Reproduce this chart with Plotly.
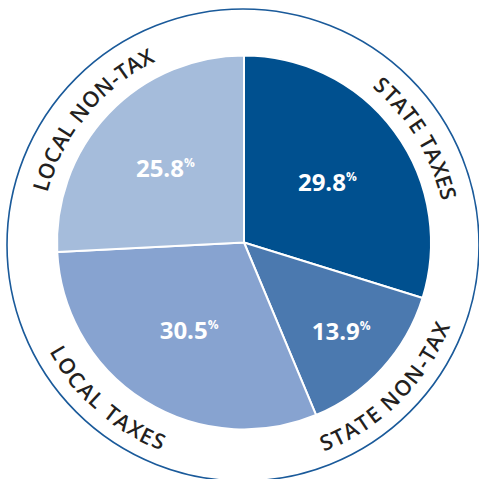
import math
import plotly.graph_objects as go

# ---- data ----
categories = ["STATE TAXES", "STATE NON-TAX", "LOCAL TAXES", "LOCAL NON-TAX"]
shares = [29.8, 13.9, 30.5, 25.8]

# ---- style ----
colors = ["#00508f", "#4b79af", "#87a3d0", "#a5bcdb"]
label_offsets_deg = [5, 3, 9, -4]   # shift of outer curved label relative to slice middle
W = H = 479
pie_cx, pie_cy, pie_r = 244, 242.5, 187  # px (from top)
label_font = "Open Sans"
label_size = 21.5
tracking = 1.2

# approximate advance widths (em) for uppercase glyphs
adv = {"S": .56, "T": .56, "A": .64, "E": .55, "X": .60, "N": .76, "O": .79,
       "-": .33, "L": .52, "C": .64, " ": .26}

fig = go.Figure()
fig.add_trace(go.Pie(
    labels=categories,
    values=shares,
    sort=False,
    direction="clockwise",
    rotation=0,
    marker=dict(colors=colors, line=dict(color="white", width=2)),
    texttemplate="<b>%{value:.1f}</b><sup><span style='font-size:12px'>%</span></sup>",
    textposition="inside",
    insidetextorientation="horizontal",
    textfont=dict(family="Open Sans", size=24, color="white", weight="bold"),
    hoverinfo="label+value",
    showlegend=False,
    domain=dict(
        x=[(pie_cx - pie_r) / W, (pie_cx + pie_r) / W],
        y=[(H - pie_cy - pie_r) / H, (H - pie_cy + pie_r) / H],
    ),
))

# outer ring
fig.add_shape(type="circle", xref="paper", yref="paper",
              x0=7 / W, x1=479 / W, y0=-2 / H, y1=470 / H,
              line=dict(color="#1a5a9a", width=1.6))

# curved labels, letter by letter
ring_cx, ring_cy = 243.5, 244
total = sum(shares)
start = 0.0
annotations = []
for name, val, off in zip(categories, shares, label_offsets_deg):
    mid = (start + val / 2) / total * 360 + off
    start += val
    bottom = 90 < (mid % 360) < 270
    r = 214 if bottom else 211
    widths = [adv.get(ch, .6) * label_size + tracking for ch in name]
    totw = sum(widths)
    s = -totw / 2
    for ch, w in zip(name, widths):
        centre = s + w / 2
        s += w
        dtheta = math.degrees(centre / r)
        theta = mid - dtheta if bottom else mid + dtheta
        th = math.radians(theta)
        px = ring_cx + r * math.sin(th)
        py = ring_cy - r * math.cos(th)
        rot = theta - 180 if bottom else theta
        if ch == " ":
            continue
        annotations.append(dict(
            x=px / W, y=1 - py / H, xref="paper", yref="paper",
            text=ch, showarrow=False, textangle=rot,
            xanchor="center", yanchor="middle",
            font=dict(family=label_font, size=label_size, color="#231f20", weight=600),
        ))

fig.update_layout(
    width=W, height=H,
    margin=dict(l=0, r=0, t=0, b=0),
    paper_bgcolor="white", plot_bgcolor="white",
    annotations=annotations,
)

fig.write_html("out.html",
               config={"displayModeBar": False},
               post_script="document.body.style.margin='0px';document.body.style.overflow='hidden';")
